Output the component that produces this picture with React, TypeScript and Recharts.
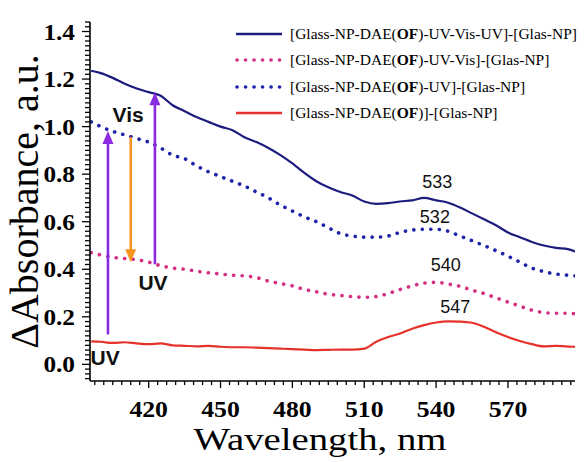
import React from 'react';
import { LineChart, Line, XAxis, YAxis, Legend, ReferenceLine, ReferenceDot, Label } from 'recharts';

// ---- data ----
const wavelengths = [396, 400, 405, 410, 415, 420, 425, 430, 435, 440, 445, 450, 455, 460, 465, 470, 475, 480, 485, 490, 495, 500, 505, 510, 515, 520, 525, 530, 535, 540, 545, 550, 555, 560, 565, 570, 575, 580, 585, 590, 595, 598];
const uvVisUv = [1.235, 1.225, 1.205, 1.18, 1.16, 1.145, 1.13, 1.09, 1.065, 1.04, 1.02, 1.0, 0.985, 0.955, 0.935, 0.91, 0.88, 0.845, 0.805, 0.77, 0.745, 0.725, 0.71, 0.685, 0.675, 0.678, 0.685, 0.69, 0.7, 0.69, 0.68, 0.66, 0.635, 0.61, 0.585, 0.555, 0.535, 0.515, 0.5, 0.49, 0.485, 0.475];
const uvVis = [0.47, 0.46, 0.45, 0.445, 0.44, 0.43, 0.415, 0.405, 0.4, 0.392, 0.385, 0.38, 0.375, 0.372, 0.365, 0.35, 0.34, 0.33, 0.315, 0.305, 0.295, 0.29, 0.285, 0.282, 0.285, 0.298, 0.315, 0.33, 0.342, 0.345, 0.338, 0.328, 0.312, 0.298, 0.28, 0.262, 0.245, 0.228, 0.218, 0.215, 0.215, 0.213];
const uv = [1.02, 1.0, 0.98, 0.965, 0.95, 0.935, 0.91, 0.88, 0.865, 0.835, 0.81, 0.79, 0.77, 0.75, 0.725, 0.7, 0.67, 0.645, 0.62, 0.6, 0.575, 0.55, 0.54, 0.535, 0.535, 0.54, 0.555, 0.565, 0.568, 0.568, 0.56, 0.54, 0.52, 0.5, 0.478, 0.455, 0.43, 0.405, 0.39, 0.38, 0.375, 0.372];
const initial = [0.097, 0.095, 0.09, 0.093, 0.088, 0.085, 0.088, 0.08, 0.078, 0.076, 0.078, 0.074, 0.072, 0.072, 0.07, 0.068, 0.066, 0.064, 0.062, 0.06, 0.061, 0.062, 0.062, 0.066, 0.095, 0.115, 0.13, 0.15, 0.165, 0.176, 0.181, 0.18, 0.175, 0.158, 0.135, 0.115, 0.098, 0.085, 0.076, 0.078, 0.075, 0.074];

const xMajorTicks = [420, 450, 480, 510, 540, 570];
const yMajorTicks = [0, 0.2, 0.4, 0.6, 0.8, 1.0, 1.2, 1.4];

const seriesNames = [
  '[Glass-NP-DAE(OF)-UV-Vis-UV]-[Glas-NP]',
  '[Glass-NP-DAE(OF)-UV-Vis]-[Glas-NP]',
  '[Glass-NP-DAE(OF)-UV]-[Glas-NP]',
  '[Glass-NP-DAE(OF)]-[Glas-NP]',
];

const peakLabels = [
  { text: '533', x: 540.5, y: 0.765 },
  { text: '532', x: 539.5, y: 0.618 },
  { text: '540', x: 544, y: 0.42 },
  { text: '547', x: 548, y: 0.243 },
];

const arrowSpecs = [
  { x: 403, from: 0.126, to: 0.982, color: '#8a2be2' },
  { x: 412.5, from: 0.956, to: 0.43, color: '#f7931e' },
  { x: 422.6, from: 0.421, to: 1.145, color: '#8a2be2' },
];

const arrowTexts = [
  { text: 'Vis', x: 411.4, y: 1.053 },
  { text: 'UV', x: 421.8, y: 0.345 },
  { text: 'UV', x: 401.8, y: 0.03 },
];

// ---- build ----
const data = wavelengths.map((w, i) => ({
  w,
  a: uvVisUv[i],
  b: uvVis[i],
  c: uv[i],
  d: initial[i],
}));

const series = [
  { key: 'a', name: seriesNames[0], color: '#1c1c7e', dotted: false },
  { key: 'b', name: seriesNames[1], color: '#d42f80', dotted: true },
  { key: 'c', name: seriesNames[2], color: '#1f22aa', dotted: true },
  { key: 'd', name: seriesNames[3], color: '#e5332c', dotted: false },
];

const X_DOMAIN: [number, number] = [395.5, 598];
const Y_DOMAIN: [number, number] = [-0.07, 1.44];

const xTicks: number[] = [];
for (let k = -6; k <= 48; k++) {
  const v = 420 + k * 3.75;
  if (v >= X_DOMAIN[0] && v <= X_DOMAIN[1]) xTicks.push(Math.round(v * 100) / 100);
}
const yTicks: number[] = [];
for (let k = -3; k <= 72; k++) {
  yTicks.push(Math.round(k * 2) / 100);
}

const serif = '"Liberation Serif", "Times New Roman", serif';
const sans = '"Liberation Sans", Arial, sans-serif';

const XTick = (props: any) => {
  const { x, y, payload } = props;
  const major = xMajorTicks.some((t) => Math.abs(t - payload.value) < 1e-6);
  return (
    <g>
      <line x1={x} y1={y} x2={x} y2={y + (major ? 7 : 4)} stroke="#000" strokeWidth={1.3} />
      {major && (
        <text
          transform={`translate(${x},${y + 36}) scale(1.12,1)`}
          textAnchor="middle"
          fontFamily={serif}
          fontWeight="bold"
          fontSize={23}
          fill="#000"
        >
          {payload.value}
        </text>
      )}
    </g>
  );
};

const YTick = (props: any) => {
  const { x, y, payload } = props;
  const major = yMajorTicks.some((t) => Math.abs(t - payload.value) < 1e-6);
  return (
    <g>
      <line x1={x - (major ? 8 : 5)} y1={y} x2={x} y2={y} stroke="#000" strokeWidth={1.3} />
      {major && (
        <text
          transform={`translate(${x - 15},${y + 8}) scale(1.1,1)`}
          textAnchor="end"
          fontFamily={serif}
          fontWeight="bold"
          fontSize={23}
          fill="#000"
        >
          {payload.value.toFixed(1)}
        </text>
      )}
    </g>
  );
};

const renderName = (name: string) => {
  const parts = name.split('OF');
  return (
    <>
      {parts[0]}
      <b>OF</b>
      {parts[1]}
    </>
  );
};

const renderLegend = () => (
  <div style={{ fontFamily: serif, fontSize: 15.5, color: '#000' }}>
    {series.map((s) => (
      <div key={s.key} style={{ display: 'flex', alignItems: 'center', height: 26.3 }}>
        <svg width={50} height={10} style={{ marginRight: 6, flex: 'none' }}>
          <line
            x1={s.dotted ? 3 : 2}
            y1={5}
            x2={48}
            y2={5}
            stroke={s.color}
            strokeWidth={s.dotted ? 3.6 : 2.6}
            strokeDasharray={s.dotted ? '0.1 8.4' : undefined}
            strokeLinecap={s.dotted ? 'round' : 'butt'}
          />
        </svg>
        <span style={{ whiteSpace: 'nowrap' }}>{renderName(s.name)}</span>
      </div>
    ))}
  </div>
);

const ArrowShape = (props: any) => {
  const { x1, y1, x2, y2, color } = props;
  if (x1 == null || y2 == null) return null;
  const dir = y2 < y1 ? -1 : 1;
  const headLen = 13;
  const headHalf = 5.5;
  return (
    <g>
      <line x1={x1} y1={y1} x2={x2} y2={y2 - dir * headLen + dir * 1} stroke={color} strokeWidth={2.6} />
      <polygon
        points={`${x2},${y2} ${x2 - headHalf},${y2 - dir * headLen} ${x2 + headHalf},${y2 - dir * headLen}`}
        fill={color}
      />
    </g>
  );
};

export default function App() {
  return (
    <div style={{ position: 'absolute', left: 0, top: 0, background: '#fff' }}>
      <LineChart width={587} height={462} data={data} margin={{ top: 22, right: 12, bottom: 0, left: 0 }}>
        <XAxis
          dataKey="w"
          type="number"
          domain={X_DOMAIN}
          allowDataOverflow
          ticks={xTicks}
          interval={0}
          tickLine={false}
          tickSize={0}
          tickMargin={0}
          tick={(p: any) => <XTick {...p} />}
          height={81}
          axisLine={{ stroke: '#000', strokeWidth: 1.6 }}
        >
          <Label
            content={(p: any) => {
              const vb = p.viewBox || { x: 90, y: 381 };
              return (
                <text
                  transform={`translate(${vb.x + 230},${vb.y + 69}) scale(1.25,1)`}
                  textAnchor="middle"
                  fontFamily={serif}
                  fontSize={31}
                  fill="#000"
                >
                  Wavelength, nm
                </text>
              );
            }}
          />
        </XAxis>
        <YAxis
          type="number"
          domain={Y_DOMAIN}
          allowDataOverflow
          ticks={yTicks}
          interval={0}
          tickLine={false}
          tickSize={0}
          tickMargin={0}
          tick={(p: any) => <YTick {...p} />}
          width={90}
          axisLine={{ stroke: '#000', strokeWidth: 1.6 }}
        >
          <Label
            content={(p: any) => {
              const vb = p.viewBox || { x: 0, y: 22, height: 359 };
              return (
                <text
                  transform={`translate(${vb.x + 38},${vb.y + vb.height / 2}) rotate(-90)`}
                  textAnchor="middle"
                  fontFamily={serif}
                  fontSize={40}
                  fill="#000"
                >
                  ΔAbsorbance, a.u.
                </text>
              );
            }}
          />
        </YAxis>
        <Legend
          layout="vertical"
          align="center"
          verticalAlign="middle"
          width={353}
          content={renderLegend}
          wrapperStyle={{ left: 234, top: 21, width: 353 }}
        />
        {series.map((s) => (
          <Line
            key={s.key}
            dataKey={s.key}
            name={s.name}
            type="monotone"
            stroke={s.color}
            strokeWidth={s.dotted ? 3.6 : 2.2}
            strokeDasharray={s.dotted ? '0.1 8.4' : undefined}
            strokeLinecap={s.dotted ? 'round' : 'butt'}
            dot={false}
            activeDot={false}
            isAnimationActive={false}
          />
        ))}
        {arrowSpecs.map((a, i) => (
          <ReferenceLine
            key={`arrow-${i}`}
            segment={[
              { x: a.x, y: a.from },
              { x: a.x, y: a.to },
            ]}
            shape={(p: any) => <ArrowShape {...p} color={a.color} />}
          />
        ))}
        {arrowTexts.map((t, i) => (
          <ReferenceDot
            key={`at-${i}`}
            x={t.x}
            y={t.y}
            r={0}
            shape={(p: any) => (
              <text
                x={p.cx}
                y={p.cy}
                textAnchor="middle"
                dominantBaseline="central"
                fontFamily={sans}
                fontWeight="bold"
                fontSize={21}
                fill="#111"
              >
                {t.text}
              </text>
            )}
          />
        ))}
        {peakLabels.map((t, i) => (
          <ReferenceDot
            key={`pk-${i}`}
            x={t.x}
            y={t.y}
            r={0}
            shape={(p: any) => (
              <text
                x={p.cx}
                y={p.cy}
                textAnchor="middle"
                dominantBaseline="central"
                fontFamily={sans}
                fontSize={18}
                fill="#111"
              >
                {t.text}
              </text>
            )}
          />
        ))}
      </LineChart>
    </div>
  );
}
